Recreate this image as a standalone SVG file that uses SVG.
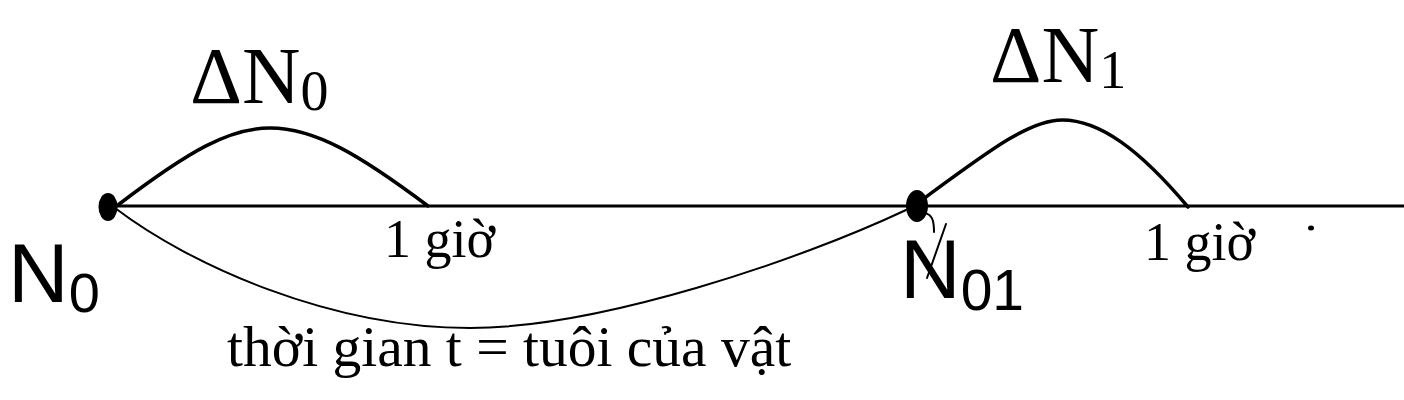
<svg xmlns="http://www.w3.org/2000/svg" width="1404" height="400" viewBox="0 0 1404 400">
  <style>
    .serif { font-family: "Liberation Serif", "Times New Roman", serif; fill: #000; }
    .sans { font-family: "Liberation Sans", Arial, sans-serif; fill: #000; }
    .axis { stroke: #000; stroke-width: 3; fill: none; }
    .arc { stroke: #000; stroke-width: 3.5; fill: none; stroke-linecap: round; }
    .thin { stroke: #000; stroke-width: 2; fill: none; stroke-linecap: round; }
    .dot { fill: #000; }
  </style>
  <rect width="1404" height="400" fill="#fff"/>

  <g id="connectors">
    <line class="axis" x1="108" y1="206" x2="1404" y2="206"/>
    <path class="arc" d="M118,205 C190,150 230,128 270,128 C315,128 360,155 428,206"/>
    <path class="arc" d="M926,197 C990,150 1030,120 1062,120 C1100,120 1140,150 1188,207"/>
    <path class="thin" d="M115,208 C190,265 330,328 470,328 C600,328 800,260 906,210"/>
    <path class="thin" stroke-width="2.5" d="M924,213 C932,214 934,220 934,232"/>
    <line class="thin" stroke-width="1.5" x1="946" y1="224" x2="927" y2="278"/>
    <ellipse class="dot" cx="1311" cy="228" rx="3" ry="2.5"/>
  </g>

  <g id="node-N0">
    <ellipse class="dot" cx="108" cy="207" rx="9.5" ry="14"/>
    <text class="sans" x="8" y="302" font-size="84">N<tspan font-size="56" dy="10">0</tspan></text>
  </g>

  <g id="node-N01">
    <ellipse class="dot" cx="917" cy="206" rx="11" ry="16"/>
    <text class="sans" x="900" y="298" font-size="84">N<tspan font-size="57" dy="12">01</tspan></text>
  </g>

  <g id="label-dN0">
    <text class="serif" x="190" y="103" font-size="81">ΔN<tspan font-size="56" dy="7">0</tspan></text>
  </g>

  <g id="label-dN1">
    <text class="serif" x="990" y="82" font-size="80">ΔN<tspan font-size="54" dy="6">1</tspan></text>
  </g>

  <g id="label-1gio-a">
    <text class="serif" x="384" y="257" font-size="54">1 giờ</text>
  </g>

  <g id="label-1gio-b">
    <text class="serif" x="1144" y="260" font-size="54">1 giờ</text>
  </g>

  <g id="label-time">
    <text class="serif" x="227" y="366" font-size="57.5">thời gian t = tuôi của vật</text>
  </g>
</svg>
